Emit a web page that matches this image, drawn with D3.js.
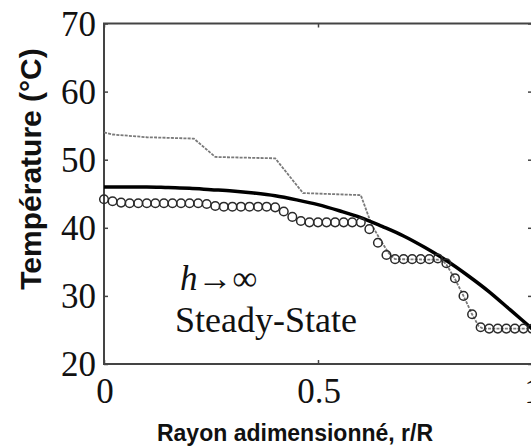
<!DOCTYPE html>
<html><head><meta charset="utf-8">
<script src="https://cdn.jsdelivr.net/npm/d3@7"></script>
<style>html,body{margin:0;padding:0;background:#fff;overflow:hidden}</style>
</head><body>
<script>
// ---- data ----
const xTicks = [0, 0.5, 1];
const xTickLabels = ["0", "0.5", "1"];
const yTicks = [20, 30, 40, 50, 60, 70];
const yTickLabels = ["20", "30", "40", "50", "60", "70"];

// steady-state (thick black)
const steadyR = [0,0.05,0.1,0.15,0.2,0.25,0.3,0.35,0.4,0.45,0.5,0.55,0.6,0.65,0.7,0.75,0.8,0.85,0.9,0.95,1.0];
const steadyT = [46.0,46.0,46.0,45.9,45.8,45.6,45.4,45.1,44.7,44.1,43.4,42.5,41.5,40.2,38.8,37.1,35.2,33.0,30.6,27.9,25.2];

// gray stepped line
const grayR = [0,0.02,0.1,0.21,0.26,0.40,0.465,0.60,0.625,0.645,0.665,0.68,0.79,0.80,0.82,0.84,0.86,0.875,0.885,1.0];
const grayT = [54.0,53.7,53.3,53.1,50.4,50.2,45.1,44.8,40.5,38.3,36.3,35.4,35.3,34.6,32.5,30.0,27.3,25.6,25.2,25.2];

// circles
const circR = [0,0.02,0.04,0.06,0.08,0.10,0.12,0.14,0.16,0.18,0.20,0.22,0.24,0.26,0.28,0.30,0.32,0.34,0.36,0.38,0.40,0.42,0.44,0.46,0.48,0.50,0.52,0.54,0.56,0.58,0.60,0.62,0.64,0.66,0.68,0.70,0.72,0.74,0.76,0.78,0.80,0.82,0.84,0.86,0.88,0.90,0.92,0.94,0.96,0.98,1.00];
const circT = [44.2,43.9,43.7,43.6,43.6,43.6,43.6,43.6,43.6,43.6,43.6,43.6,43.5,43.2,43.1,43.1,43.1,43.1,43.1,43.1,43.0,42.4,41.6,41.0,40.8,40.8,40.8,40.8,40.8,40.8,40.8,39.8,37.8,36.0,35.4,35.4,35.4,35.4,35.4,35.5,34.8,32.6,30.0,27.3,25.4,25.2,25.2,25.2,25.2,25.2,25.2];

const W = 531, H = 448;
const L = 104, R = 532, T = 23.5, B = 364;

const svg = d3.select("body").append("svg").attr("width", W).attr("height", H);
const x = d3.scaleLinear().domain([0, 1]).range([L, R]);
const y = d3.scaleLinear().domain([20, 70]).range([B, T]);

const axisColor = "#444";
// frame
svg.append("rect").attr("x", L).attr("y", T).attr("width", R - L).attr("height", B - T)
  .attr("fill", "none").attr("stroke", axisColor).attr("stroke-width", 2);

// axes (ticks inward)
const yAxisL = d3.axisLeft(y).tickValues(yTicks).tickSize(-4).tickFormat("");
const yAxisR = d3.axisRight(y).tickValues(yTicks).tickSize(-4).tickFormat("");
const xAxisB = d3.axisBottom(x).tickValues(xTicks).tickSize(-4).tickFormat("");
const xAxisT = d3.axisTop(x).tickValues(xTicks).tickSize(-4).tickFormat("");
[[yAxisL, `translate(${L},0)`], [yAxisR, `translate(${R},0)`], [xAxisB, `translate(0,${B})`], [xAxisT, `translate(0,${T})`]].forEach(([ax, tr]) => {
  const g = svg.append("g").attr("transform", tr).call(ax);
  g.select(".domain").remove();
  g.selectAll("line").attr("stroke", axisColor).attr("stroke-width", 1.5);
});

// tick labels
const serif = "'Liberation Serif', 'Times New Roman', serif";
svg.append("g").selectAll("text").data(yTicks).join("text")
  .attr("x", L - 8).attr("y", d => y(d)).attr("dy", "0.35em")
  .attr("text-anchor", "end").attr("font-family", serif).attr("font-size", 35).attr("fill", "#111")
  .text((d, i) => yTickLabels[i]);
svg.append("g").selectAll("text").data(xTicks).join("text")
  .attr("x", d => x(d) + 1).attr("y", 403)
  .attr("text-anchor", "middle").attr("font-family", serif).attr("font-size", 35).attr("fill", "#111")
  .text((d, i) => xTickLabels[i]);

// gray line
const grayData = grayR.map((r, i) => [r, grayT[i]]);
svg.append("path").datum(grayData)
  .attr("d", d3.line().x(d => x(d[0])).y(d => y(d[1])))
  .attr("fill", "none").attr("stroke", "#7a7a7a").attr("stroke-width", 1.8)
  .attr("stroke-dasharray", "3,1.2");

// steady-state line
const steadyData = steadyR.map((r, i) => [r, steadyT[i]]);
svg.append("path").datum(steadyData)
  .attr("d", d3.line().curve(d3.curveMonotoneX).x(d => x(d[0])).y(d => y(d[1])))
  .attr("fill", "none").attr("stroke", "#000").attr("stroke-width", 3.5);

// circles
const circData = circR.map((r, i) => [r, circT[i]]);
svg.append("g").selectAll("circle").data(circData).join("circle")
  .attr("cx", d => x(d[0])).attr("cy", d => y(d[1])).attr("r", 4.3)
  .attr("fill", "none").attr("stroke", "#2a2a2a").attr("stroke-width", 1.5);

// annotation
const ann = svg.append("text").attr("x", 180).attr("y", 290)
  .attr("font-family", serif).attr("font-size", 35).attr("fill", "#111");
ann.append("tspan").attr("font-style", "italic").text("h");
ann.append("tspan").text("→∞");
svg.append("text").attr("x", 175).attr("y", 332)
  .attr("font-family", serif).attr("font-size", 36).attr("fill", "#111").text("Steady-State");

// axis titles
const sans = "'Liberation Sans', Arial, sans-serif";
svg.append("text").attr("x", 295).attr("y", 441).attr("text-anchor", "middle")
  .attr("font-family", sans).attr("font-weight", "bold").attr("font-size", 23).attr("fill", "#111")
  .text("Rayon adimensionné, r/R");
svg.append("text").attr("transform", "translate(41,169) rotate(-90)").attr("text-anchor", "middle")
  .attr("font-family", sans).attr("font-weight", "bold").attr("font-size", 30).attr("fill", "#111")
  .text("Température (°C)");
</script>
</body></html>
